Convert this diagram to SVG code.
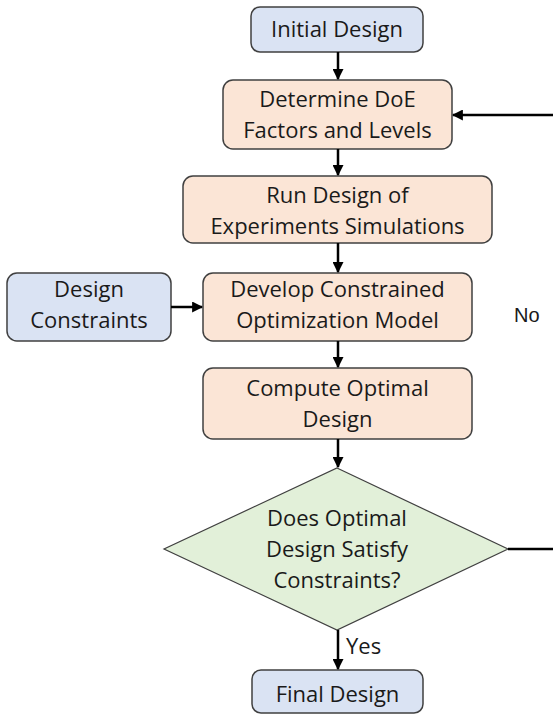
<svg xmlns="http://www.w3.org/2000/svg" width="553" height="715" viewBox="0 0 553 715">
<defs>
<marker id="ah" viewBox="0 0 10 10" refX="9" refY="5" markerWidth="4.4" markerHeight="4.4" orient="auto" markerUnits="strokeWidth">
<path d="M0,0 L10,5 L0,10 z" fill="#000"/>
</marker>
<style>
.box{stroke:#404040;stroke-width:1.5}
.blue{fill:#dae3f3}
.peach{fill:#fbe5d6}
.green{fill:#e2f0d9;stroke:#404040;stroke-width:1.2}
text{font-family:"Open Sans","Liberation Sans",sans-serif;font-size:22px;fill:#1a1a1a;text-anchor:middle}
.lbl{text-anchor:start}
.conn{stroke:#000;stroke-width:2.5;fill:none}
</style>
</defs>
<rect width="553" height="715" fill="#fff"/>
<g id="initial">
<rect class="box blue" x="251" y="7" width="172" height="45" rx="9"/>
<text x="337" y="37">Initial Design</text>
</g>
<g id="determine">
<rect class="box peach" x="223" y="80" width="229" height="69" rx="10"/>
<text x="337.5" y="107">Determine DoE</text>
<text x="337.5" y="138">Factors and Levels</text>
</g>
<g id="run">
<rect class="box peach" x="183" y="176" width="309" height="67" rx="10"/>
<text x="337.5" y="203">Run Design of</text>
<text x="337.5" y="234">Experiments Simulations</text>
</g>
<g id="constraints">
<rect class="box blue" x="7" y="273" width="164" height="68" rx="10"/>
<text x="89" y="297">Design</text>
<text x="89" y="328">Constraints</text>
</g>
<g id="develop">
<rect class="box peach" x="203" y="273" width="269" height="68" rx="10"/>
<text x="337.5" y="297">Develop Constrained</text>
<text x="337.5" y="328">Optimization Model</text>
</g>
<g id="compute">
<rect class="box peach" x="203" y="368" width="269" height="71" rx="10"/>
<text x="337.5" y="396">Compute Optimal</text>
<text x="337.5" y="427">Design</text>
</g>
<g id="decision">
<polygon class="green" points="337,468 508,549 337,630 164,549"/>
<text x="337" y="526">Does Optimal</text>
<text x="337" y="557">Design Satisfy</text>
<text x="337" y="588">Constraints?</text>
</g>
<g id="final">
<rect class="box blue" x="252" y="670" width="171" height="43" rx="9"/>
<text x="337.5" y="702">Final Design</text>
</g>
<g id="connectors">
<line class="conn" x1="338" y1="52" x2="338" y2="79" marker-end="url(#ah)"/>
<line class="conn" x1="338" y1="149" x2="338" y2="175" marker-end="url(#ah)"/>
<line class="conn" x1="338" y1="243" x2="338" y2="272" marker-end="url(#ah)"/>
<line class="conn" x1="171" y1="307" x2="202" y2="307" marker-end="url(#ah)"/>
<line class="conn" x1="338" y1="341" x2="338" y2="367" marker-end="url(#ah)"/>
<line class="conn" x1="338" y1="439" x2="338" y2="467" marker-end="url(#ah)"/>
<line class="conn" x1="338" y1="630" x2="338" y2="669" marker-end="url(#ah)"/>
<line class="conn" x1="508" y1="549" x2="553" y2="549"/>
<line class="conn" x1="553" y1="115" x2="453" y2="115" marker-end="url(#ah)"/>
<text class="lbl" x="346" y="654">Yes</text>
<text class="lbl" x="514" y="322" style="font-family:'Liberation Sans',sans-serif;font-size:20px">No</text>
</g>
</svg>
